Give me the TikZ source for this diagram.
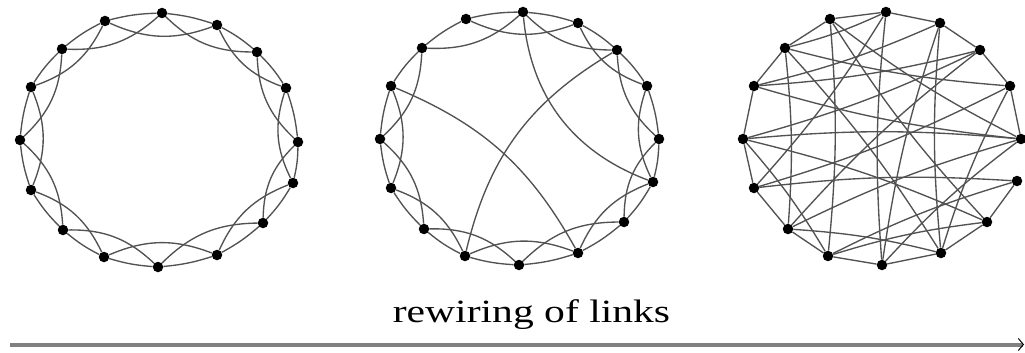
\documentclass[tikz,border=0pt]{standalone}
\usepackage{fontspec}
\setmainfont{Liberation Serif}
\usetikzlibrary{arrows.meta}
\begin{document}
\begin{tikzpicture}[x=1pt,y=-1pt,
  dot/.style={circle,fill=black,inner sep=0pt,minimum size=10.5pt},
  edge/.style={draw=black!68,line width=1.35pt},
  axis/.style={draw=black!50,line width=4pt,-{Straight Barb[length=5pt,width=12pt,line width=1pt,color=black]}},
]
\useasboundingbox (0,0) rectangle (1025,353);
% graph 1 (regular lattice)
\foreach \n/\x/\y in {0/162/13,1/217/25,2/257/52,3/286/88,4/298/142,5/293/183,6/263/223,7/217/255,8/158/267,9/104/257,10/63/230,11/31/190,12/20/140,13/31/87,14/62/49,15/105/21}
  \node[dot] (a\n) at (\x,\y) {};
% graph 2 (few rewired links)
\foreach \n/\x/\y in {0/523/12,1/578/23,2/617/50,3/647/86,4/659/139,5/653/182,6/624/222,7/578/253,8/519/265,9/465/256,10/424/229,11/391/188,12/380/139,13/391/86,14/422/48,15/466/19}
  \node[dot] (b\n) at (\x,\y) {};
% graph 3 (random)
\foreach \n/\x/\y in {0/886/12,1/940/23,2/980/50,3/1010/86,4/1021/139,5/1017/181,6/987/222,7/941/253,8/882/265,9/828/256,10/788/229,11/754/188,12/743/139,13/754/86,14/785/48,15/830/19}
  \node[dot] (c\n) at (\x,\y) {};

\foreach \i in {0,...,15}{
  \pgfmathtruncatemacro\j{mod(\i+1,16)}
  \pgfmathtruncatemacro\k{mod(\i+2,16)}
  \draw[edge] (a\i) to[bend left=6] (a\j);
  \draw[edge] (a\i) to[bend right=22] (a\k);
  \draw[edge] (b\i) to[bend left=6] (b\j);
  \ifnum\i=13\relax\else\draw[edge] (b\i) to[bend right=22] (b\k);\fi
}
\draw[edge] (b0) to[bend right=32] (b5);
\draw[edge] (b2) to[bend right=23] (b9);
\draw[edge] (b7) to[bend right=19] (b13);

\foreach \p/\q in {0/1,1/2,2/3,3/4,5/6,6/7,7/8,8/9,9/10,10/11,11/12,12/13,13/14,14/15,15/0}
  \draw[edge] (c\p) -- (c\q);
\foreach \p/\q in {0/8,1/7,14/3,13/4,4/12,5/11,2/10,13/2,14/0,15/6,9/15,5/9,7/10,6/9,9/12,13/1,11/0,4/8,7/14,3/7,15/4,12/2,4/10,1/8,11/3,6/12,10/14}
  \draw[edge] (c\p) to[bend right=5] (c\q);

\node[anchor=base,inner sep=0pt] (lbl) at (531.5,322) {\scalebox{1.28}[1]{\fontsize{32.5}{36}\selectfont rewiring of links}};
\coordinate (ls) at (10,344.5);
\coordinate (le) at (1024,344.5);
\draw[axis] (ls) -- (le);
\end{tikzpicture}
\end{document}
